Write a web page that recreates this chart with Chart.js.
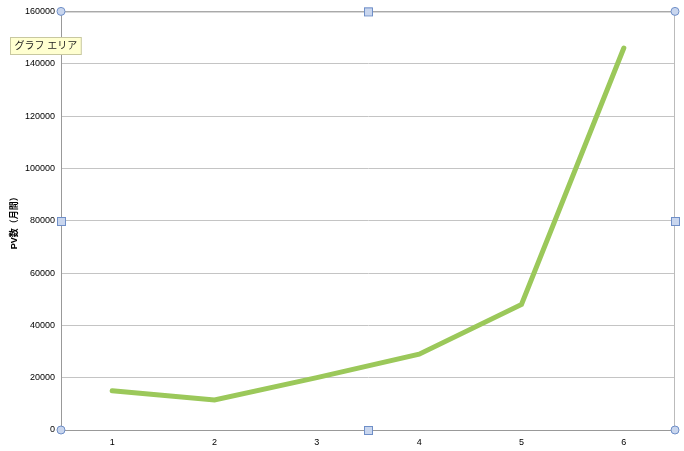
<!DOCTYPE html>
<html>
<head>
<meta charset="utf-8">
<script src="https://cdn.jsdelivr.net/npm/chart.js@4"></script>
<style>
  body { margin: 0; background: #fff; }
  #wrap { width: 684px; height: 451px; position: relative; }
</style>
</head>
<body>
<div id="wrap"><canvas id="graph0"></canvas></div>
<script>
// DATA
const categories = ['1', '2', '3', '4', '5', '6']
const pvValues = [15000, 11500, 20000, 29000, 48000, 146000]
const yTicks = [0, 20000, 40000, 60000, 80000, 100000, 120000, 140000, 160000]
const yTitle = 'PV数（月間）'
const areaLabel = 'グラフ エリア'

const font = "'Liberation Sans', 'Noto Sans CJK JP', sans-serif"

// frame + selection handles, like the spreadsheet editor
const framePlugin = {
    id: 'frame',
    afterDraw(chart) {
        const ctx = chart.ctx
        const a = chart.chartArea
        ctx.save()
        ctx.strokeStyle = '#999'
        ctx.lineWidth = 1
        ctx.beginPath()
        ctx.moveTo(a.left, a.top + 0.5)
        ctx.lineTo(a.right, a.top + 0.5)
        ctx.stroke()
        ctx.strokeStyle = '#bbb'
        ctx.beginPath()
        ctx.moveTo(a.right - 0.5, a.top)
        ctx.lineTo(a.right - 0.5, a.bottom)
        ctx.stroke()

        const midX = Math.round((a.left + a.right) / 2)
        const midY = Math.round((a.top + a.bottom) / 2)
        ctx.fillStyle = '#c9d6ee'
        ctx.strokeStyle = '#6f8fc8'
        for (const [x, y] of [[a.left, a.top], [a.right, a.top], [a.left, a.bottom], [a.right, a.bottom]]) {
            ctx.beginPath()
            ctx.arc(x, y, 4, 0, Math.PI * 2)
            ctx.fill()
            ctx.stroke()
        }
        for (const [x, y] of [[midX, a.top], [midX, a.bottom], [a.left, midY], [a.right, midY]]) {
            ctx.fillRect(x - 4, y - 4, 8, 8)
            ctx.strokeRect(x - 3.5, y - 3.5, 8, 8)
        }

        // tooltip label
        ctx.font = '10px ' + font
        const w = ctx.measureText(areaLabel).width + 8
        ctx.fillStyle = '#ffffd0'
        ctx.fillRect(10.5, 37.5, w, 17)
        ctx.strokeStyle = '#c8c8a0'
        ctx.strokeRect(10.5, 37.5, w, 17)
        ctx.fillStyle = '#222'
        ctx.textBaseline = 'middle'
        ctx.fillText(areaLabel, 14.5, 46.5)
        ctx.restore()
    }
}

new Chart(document.getElementById('graph0'), {
    type: 'line',
    data: {
        labels: categories,
        datasets: [{
            label: 'PV',
            data: pvValues,
            borderColor: '#9bc85a',
            borderWidth: 5,
            pointRadius: 0,
            tension: 0,
            borderCapStyle: 'round',
            borderJoinStyle: 'miter'
        }]
    },
    options: {
        responsive: true,
        maintainAspectRatio: false,
        animation: false,
        layout: { padding: { top: 10, right: 9, left: 0, bottom: 0 } },
        plugins: { legend: { display: false }, tooltip: { enabled: false } },
        scales: {
            x: {
                offset: true,
                grid: { display: false, drawTicks: false },
                border: { color: '#999' },
                ticks: { color: '#000', font: { size: 9, family: font }, padding: 7 },
                afterFit(s) { s.height = 21 }
            },
            y: {
                min: 0,
                max: 160000,
                afterBuildTicks(s) { s.ticks = yTicks.map(v => ({ value: v })) },
                grid: { color: '#c4c4c4', drawTicks: false },
                border: { color: '#999' },
                ticks: { color: '#000', font: { size: 9, family: font }, padding: 6, callback: v => String(v) },
                title: { display: true, text: yTitle, color: '#000', font: { size: 9, family: font, weight: 'bold' }, padding: { top: 9, bottom: 0 } },
                afterFit(s) { s.width = 61 }
            }
        }
    },
    plugins: [framePlugin]
})
</script>
</body>
</html>
